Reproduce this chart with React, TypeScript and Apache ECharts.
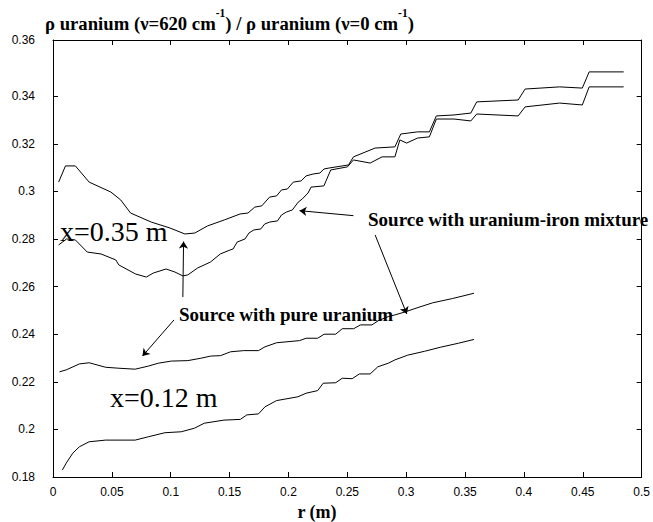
import React, { useEffect, useRef } from "react";
import * as echarts from "echarts";

// Tick values / labels
const xTickInterval = 0.05;
const yTickValues = [0.18, 0.2, 0.22, 0.24, 0.26, 0.28, 0.3, 0.32, 0.34];
const yTopValue = 0.3636; // frame top, labelled "0.36" in the reference
const yTopLabel = "0.36";

// x = 0.35 m, source with pure uranium
const pure035: [number, number][] = [
  [0.0048, 0.3039], [0.0106, 0.3107], [0.019, 0.3107], [0.0307, 0.3039], [0.0492, 0.2997],
  [0.0575, 0.2964], [0.0659, 0.2909], [0.0835, 0.2871], [0.0994, 0.2846], [0.112, 0.2821],
  [0.1204, 0.2825], [0.1313, 0.2855], [0.1455, 0.288], [0.1589, 0.2905], [0.1656, 0.2909],
  [0.1714, 0.2934], [0.1773, 0.2939], [0.184, 0.2976], [0.1899, 0.2981], [0.1941, 0.3006],
  [0.1991, 0.301], [0.2041, 0.3039], [0.2108, 0.3044], [0.215, 0.3065], [0.2209, 0.3073],
  [0.2267, 0.3077], [0.2301, 0.3094], [0.2343, 0.3098], [0.251, 0.3111],
  [0.2552, 0.3145], [0.2736, 0.3182], [0.2904, 0.3187], [0.2954, 0.3241], [0.3096, 0.325],
  [0.3197, 0.325], [0.3256, 0.3317], [0.3406, 0.3321], [0.3549, 0.3329], [0.3599, 0.3376],
  [0.3951, 0.3384], [0.401, 0.343], [0.4303, 0.3439], [0.4496, 0.3434], [0.4554, 0.3502],
  [0.4847, 0.3502],
];

// x = 0.35 m, source with uranium-iron mixture
const mix035: [number, number][] = [
  [0.0048, 0.2775], [0.0115, 0.28], [0.019, 0.2796], [0.0291, 0.2745], [0.0408, 0.2737],
  [0.0533, 0.2712], [0.0559, 0.2691], [0.0701, 0.2653], [0.0793, 0.264], [0.0852, 0.2657],
  [0.0961, 0.2674], [0.1036, 0.2661], [0.1103, 0.2645], [0.1145, 0.2649], [0.1228, 0.2678],
  [0.1337, 0.2703], [0.1421, 0.2737], [0.1505, 0.2754], [0.153, 0.2758], [0.1564, 0.2787],
  [0.1631, 0.28], [0.1664, 0.2825], [0.1706, 0.2838], [0.1765, 0.2842], [0.1798, 0.2863],
  [0.184, 0.2871], [0.1907, 0.2876], [0.1941, 0.2901], [0.1982, 0.2913], [0.2033, 0.2922],
  [0.2083, 0.2955], [0.2117, 0.2968], [0.2166, 0.2993], [0.2192, 0.3018],
  [0.2301, 0.3023], [0.2359, 0.309], [0.2501, 0.3103], [0.2552, 0.3132], [0.2694, 0.3119],
  [0.2795, 0.3145], [0.2904, 0.3145], [0.2946, 0.3216], [0.3004, 0.3203], [0.3096, 0.3224],
  [0.3197, 0.3229], [0.3256, 0.3304], [0.3406, 0.3304], [0.3549, 0.3296], [0.3599, 0.3325],
  [0.3951, 0.3317], [0.401, 0.3355], [0.4303, 0.3371], [0.4496, 0.3363], [0.4554, 0.3439],
  [0.4847, 0.3439],
];

// x = 0.12 m, source with pure uranium
const pure012: [number, number][] = [
  [0.0056, 0.2242], [0.0112, 0.225], [0.0224, 0.2275], [0.0307, 0.228], [0.0447, 0.2261],
  [0.0559, 0.2257], [0.0698, 0.2253], [0.081, 0.2266], [0.0894, 0.2278], [0.1005, 0.2287],
  [0.1145, 0.2289], [0.1256, 0.2299], [0.134, 0.2308], [0.1424, 0.231], [0.1508, 0.2326],
  [0.162, 0.2331], [0.1745, 0.2331], [0.1801, 0.2347], [0.1899, 0.2364], [0.2094, 0.2373],
  [0.215, 0.2383], [0.2248, 0.2383], [0.2303, 0.24], [0.2401, 0.24], [0.2457, 0.2423],
  [0.2554, 0.2423], [0.2611, 0.2439], [0.2709, 0.2439], [0.2764, 0.2457], [0.2848, 0.2474],
  [0.2904, 0.2481], [0.2987, 0.2493], [0.31, 0.2512], [0.3226, 0.2532], [0.3395, 0.255],
  [0.3576, 0.2572],
];

// x = 0.12 m, source with uranium-iron mixture
const mix012: [number, number][] = [
  [0.0079, 0.1829], [0.0112, 0.1858], [0.0168, 0.19], [0.0224, 0.1927], [0.0307, 0.1948],
  [0.0447, 0.1955], [0.0698, 0.1955], [0.081, 0.1969], [0.095, 0.1986], [0.1089, 0.199],
  [0.1201, 0.2005], [0.1285, 0.2026], [0.1452, 0.2039], [0.1591, 0.2042], [0.1647, 0.2061],
  [0.1745, 0.2065], [0.1801, 0.2095], [0.1899, 0.2121], [0.208, 0.2137], [0.215, 0.2152],
  [0.2248, 0.2163], [0.2295, 0.2194], [0.2401, 0.2196], [0.2457, 0.2215], [0.2541, 0.2213],
  [0.2602, 0.2233], [0.2694, 0.2233], [0.2759, 0.2263], [0.2848, 0.2278], [0.2904, 0.2292],
  [0.3013, 0.2312], [0.3155, 0.2328], [0.3289, 0.2345], [0.3444, 0.2362], [0.3576, 0.2378],
];

// annotation arrows, [start, end] in data units
const arrows: [[number, number], [number, number]][] = [
  [[0.2552, 0.2898], [0.2094, 0.2919]],
  [[0.2736, 0.2817], [0.3005, 0.2485]],
  [[0.1103, 0.2556], [0.1109, 0.2789]],
  [[0.1028, 0.246], [0.076, 0.2308]],
];

const SERIF = "'Liberation Serif', 'Times New Roman', serif";
const SANS = "'Liberation Sans', Arial, sans-serif";

export default function App() {
  const ref = useRef<HTMLDivElement>(null);
  useEffect(() => {
    if (!ref.current) return;
    const chart = echarts.init(ref.current, undefined, { renderer: "svg" });
    const axisLine = { show: true, onZero: false, lineStyle: { color: "#000", width: 1 } };
    const tick = { show: true, inside: true, length: 5, lineStyle: { color: "#000", width: 1 } };
    const lineSeries = (name: string, data: [number, number][], extra: any = {}) => ({
      name,
      type: "line",
      data,
      showSymbol: false,
      symbol: "none",
      silent: true,
      lineStyle: { color: "#000", width: 1 },
      ...extra,
    });
    const option: any = {
      animation: false,
      backgroundColor: "#fff",
      grid: { left: 53, right: 3, top: 40, bottom: 45, containLabel: false },
      xAxis: [
        {
          type: "value", min: 0, max: 0.5, interval: xTickInterval, position: "bottom",
          axisLine, axisTick: tick, splitLine: { show: false },
          axisLabel: { show: true, margin: 9, color: "#000", fontFamily: SANS, fontSize: 12, showMinLabel: true, showMaxLabel: true },
        },
        {
          type: "value", min: 0, max: 0.5, interval: xTickInterval, position: "top",
          axisLine, axisTick: tick, splitLine: { show: false }, axisLabel: { show: false },
        },
      ],
      yAxis: [
        {
          type: "value", min: 0.18, max: yTopValue, position: "left",
          axisLine, axisTick: { ...tick, customValues: yTickValues }, splitLine: { show: false },
          axisLabel: {
            show: true, margin: 18, color: "#000", fontFamily: SANS, fontSize: 12,
            customValues: [...yTickValues, yTopValue],
            formatter: (v: number) => (v > 0.35 ? yTopLabel : String(+v.toFixed(2))),
          },
        },
        {
          type: "value", min: 0.18, max: yTopValue, position: "right",
          axisLine, axisTick: { ...tick, customValues: yTickValues }, splitLine: { show: false },
          axisLabel: { show: false },
        },
      ],
      series: [
        lineSeries("pure035", pure035),
        lineSeries("mix035", mix035),
        lineSeries("pure012", pure012),
        lineSeries("mix012", mix012, {
          markLine: {
            silent: true,
            symbol: ["none", "arrow"],
            symbolSize: 7,
            label: { show: false },
            lineStyle: { color: "#000", width: 1, type: "solid" },
            data: arrows.map(([a, b]) => [{ coord: a }, { coord: b }]),
          },
        }),
      ],
      graphic: [
        {
          type: "text", x: 45, y: 7,
          style: {
            text: "{m|ρ uranium (ν=620 cm}{s|-1}{m|) / ρ uranium (ν=0 cm}{s|-1}{m|)}",
            verticalAlign: "top",
            rich: {
              m: { fontFamily: SERIF, fontWeight: "bold", fontSize: 18.7, lineHeight: 33, fill: "#000" },
              s: { fontFamily: SERIF, fontWeight: "bold", fontSize: 11.5, lineHeight: 11, verticalAlign: "top", fill: "#000" },
            },
          },
        },
        {
          type: "text", x: 317, y: 512,
          style: { text: "r (m)", fontFamily: SERIF, fontWeight: "bold", fontSize: 18, align: "center", verticalAlign: "middle", fill: "#000" },
        },
        {
          type: "text", x: 60, y: 231,
          style: { text: "x=0.35 m", fontFamily: SERIF, fontSize: 28, align: "left", verticalAlign: "middle", fill: "#000" },
        },
        {
          type: "text", x: 110, y: 397,
          style: { text: "x=0.12 m", fontFamily: SERIF, fontSize: 28, align: "left", verticalAlign: "middle", fill: "#000" },
        },
        {
          type: "text", x: 368, y: 219,
          style: { text: "Source with uranium-iron mixture", fontFamily: SERIF, fontWeight: "bold", fontSize: 19, align: "left", verticalAlign: "middle", fill: "#000" },
        },
        {
          type: "text", x: 179, y: 314,
          style: { text: "Source with pure uranium", fontFamily: SERIF, fontWeight: "bold", fontSize: 19, align: "left", verticalAlign: "middle", fill: "#000" },
        },
      ],
    };
    chart.setOption(option);
    return () => chart.dispose();
  }, []);
  return <div ref={ref} style={{ position: "absolute", left: 0, top: 0, width: 653, height: 522 }} />;
}
